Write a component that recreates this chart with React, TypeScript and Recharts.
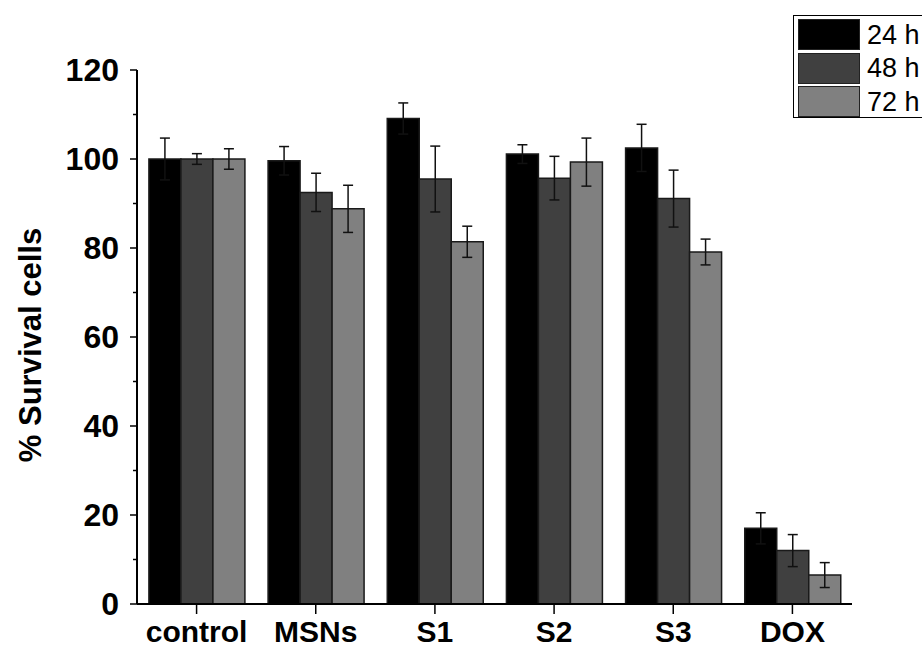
import { BarChart, Bar, XAxis, YAxis, ErrorBar, Legend } from 'recharts'

const FONT = "Arial, 'Liberation Sans', Helvetica, sans-serif"

const categories = ['control', 'MSNs', 'S1', 'S2', 'S3', 'DOX']
const h24 = [100, 99.6, 109.1, 101.1, 102.5, 17.0]
const h48 = [100, 92.5, 95.5, 95.7, 91.1, 12.0]
const h72 = [100, 88.8, 81.4, 99.3, 79.1, 6.5]
const err24 = [4.7, 3.2, 3.5, 2.1, 5.3, 3.5]
const err48 = [1.2, 4.3, 7.4, 4.9, 6.4, 3.6]
const err72 = [2.3, 5.3, 3.5, 5.4, 2.9, 2.8]
const yTicks = [0, 10, 20, 30, 40, 50, 60, 70, 80, 90, 100, 110, 120]

const SERIES = [
  { key: 'h24', err: 'e24', name: '24 h', fill: '#000000' },
  { key: 'h48', err: 'e48', name: '48 h', fill: '#404040' },
  { key: 'h72', err: 'e72', name: '72 h', fill: '#808080' },
]

const data = categories.map((c, i) => ({
  name: c,
  h24: h24[i],
  h48: h48[i],
  h72: h72[i],
  e24: err24[i],
  e48: err48[i],
  e72: err72[i],
}))

function YTick({ x, y, payload }: any) {
  const major = payload.value % 20 === 0
  const axisX = x + 8
  return (
    <g>
      <line x1={axisX} x2={axisX - (major ? 7 : 4)} y1={y} y2={y} stroke="#000" strokeWidth={1.5} />
      {major && (
        <text
          x={axisX - 18}
          y={y}
          textAnchor="end"
          dominantBaseline="central"
          fontFamily={FONT}
          fontWeight="bold"
          fontSize={32}
          fill="#000"
        >
          {payload.value}
        </text>
      )}
    </g>
  )
}

function XTick({ x, payload }: any) {
  return (
    <text x={x} y={642} textAnchor="middle" fontFamily={FONT} fontWeight="bold" fontSize={30} fill="#000">
      {payload.value}
    </text>
  )
}

function YLabel({ viewBox }: any) {
  const cx = 30
  const cy = viewBox.y + viewBox.height / 2 + 8
  return (
    <text
      x={cx}
      y={cy}
      transform={`rotate(-90 ${cx} ${cy})`}
      textAnchor="middle"
      dominantBaseline="central"
      fontFamily={FONT}
      fontWeight="bold"
      fontSize={31}
      fill="#000"
    >
      % Survival cells
    </text>
  )
}

function LegendBox() {
  return (
    <div
      style={{
        width: 150,
        height: 103,
        border: '1.5px solid #000',
        background: '#fff',
        boxSizing: 'border-box',
        paddingTop: 2,
        paddingLeft: 4,
        fontFamily: FONT,
      }}
    >
      {SERIES.map((s) => (
        <div key={s.key} style={{ display: 'flex', alignItems: 'center', height: 33.5 }}>
          <div
            style={{
              width: 62,
              height: 31,
              background: s.fill,
              border: '1.5px solid #222',
              boxSizing: 'border-box',
            }}
          />
          <span style={{ marginLeft: 7, fontSize: 27, lineHeight: '30px', color: '#000' }}>{s.name}</span>
        </div>
      ))}
    </div>
  )
}

export default function App() {
  return (
    <div style={{ position: 'absolute', left: 0, top: 0, width: 922, height: 649, overflow: 'hidden', background: '#fff' }}>
      <BarChart
        width={922}
        height={649}
        data={data}
        margin={{ top: 70, right: 70, left: 0, bottom: 0 }}
        barCategoryGap="10%"
        barGap={0}
      >
        <XAxis
          dataKey="name"
          height={45}
          tick={<XTick />}
          tickSize={10}
          tickLine={{ stroke: '#000', strokeWidth: 1.5 }}
          axisLine={{ stroke: '#000', strokeWidth: 2 }}
          interval={0}
        />
        <YAxis
          width={137}
          domain={[0, 120]}
          ticks={yTicks}
          interval={0}
          tickLine={false}
          tick={<YTick />}
          axisLine={{ stroke: '#000', strokeWidth: 2 }}
          label={<YLabel />}
        />
        <Legend
          layout="vertical"
          align="center"
          verticalAlign="middle"
          content={() => <LegendBox />}
          wrapperStyle={{ position: 'absolute', left: 793, top: 15, width: 150 }}
        />
        {SERIES.map((s) => (
          <Bar key={s.key} dataKey={s.key} name={s.name} fill={s.fill} stroke="#1a1a1a" strokeWidth={1.5} isAnimationActive={false}>
            <ErrorBar dataKey={s.err} width={5} stroke="#111" strokeWidth={1.5} direction="y" />
          </Bar>
        ))}
      </BarChart>
    </div>
  )
}
